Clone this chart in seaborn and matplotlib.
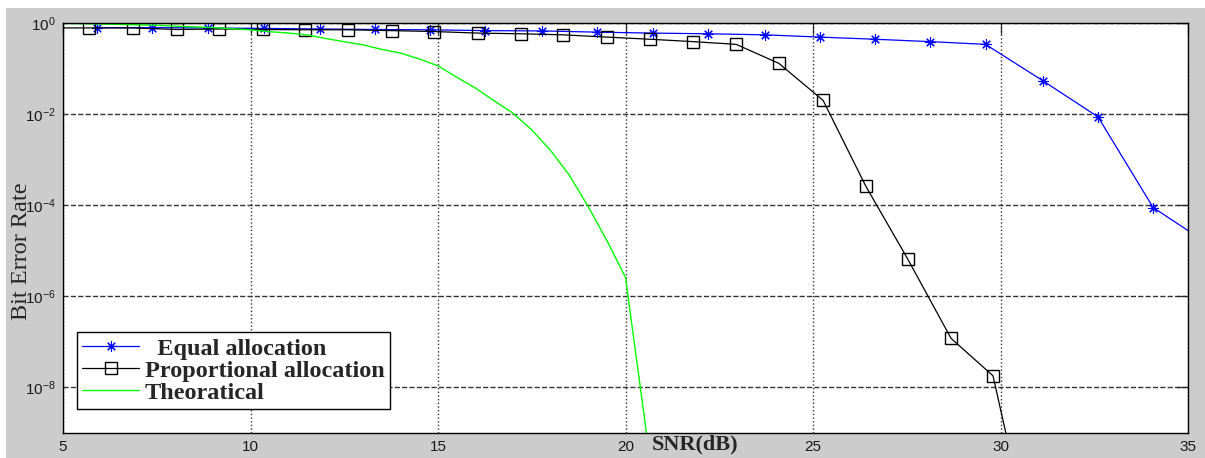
import numpy as np
import pandas as pd
import seaborn as sns
import matplotlib
matplotlib.use("Agg")
import matplotlib.pyplot as plt
from matplotlib.patches import Rectangle
from matplotlib.ticker import NullLocator

# =====================================================
# DATA
# =====================================================

equal_snr = [5.9, 7.37, 8.87, 10.36, 11.85, 13.32, 14.79, 16.25, 17.77, 19.24,
             20.73, 22.2, 23.72, 25.19, 26.65, 28.12, 29.6, 31.13, 32.6, 34.07, 35.55]
equal_ber = [0.79, 0.79, 0.78, 0.76, 0.74, 0.72, 0.71, 0.68, 0.67, 0.63,
             0.60, 0.58, 0.55, 0.49, 0.44, 0.39, 0.34, 0.054, 0.0087, 8.9e-5, 1.4e-5]

prop_snr = [4.54, 5.69, 6.87, 8.04, 9.16, 10.33, 11.45, 12.6, 13.77, 14.89, 16.07,
            17.21, 18.33, 19.51, 20.65, 21.8, 22.95, 24.09, 25.27, 26.41,
            27.53, 28.68, 29.8, 30.95]
prop_ber = [0.78, 0.78, 0.78, 0.72, 0.74, 0.72, 0.71, 0.71, 0.68, 0.65, 0.60,
            0.58, 0.55, 0.49, 0.44, 0.39, 0.34, 0.13, 0.020, 2.6e-4,
            6.5e-6, 1.2e-7, 1.8e-8, 1.1e-12]

theory_snr = [5, 5.5, 6, 6.5, 7, 7.5, 8, 8.5, 9, 9.5, 10, 10.5, 11, 11.5, 12,
              12.5, 13, 13.5, 14, 14.5, 15, 15.5, 16, 16.5, 17, 17.5, 18,
              18.5, 19, 19.5, 20, 21]
theory_ber = [0.98, 0.966, 0.955, 0.933, 0.912, 0.891, 0.851, 0.822, 0.794,
              0.750, 0.708, 0.646, 0.603, 0.550, 0.457, 0.389, 0.331, 0.263,
              0.219, 0.162, 0.115, 0.0646, 0.0372, 0.0195, 0.0105, 4.5e-3,
              1.6e-3, 4.6e-4, 9.5e-5, 1.7e-5, 2.6e-6, 2.0e-12]

x_ticks = [5, 10, 15, 20, 25, 30, 35]
y_ticks = [1e-8, 1e-6, 1e-4, 1e-2, 1e0]

# =====================================================
# FIGURE
# =====================================================

sns.set_style("white")
plt.rcParams["font.family"] = ["Liberation Sans", "DejaVu Sans"]
serif = ["Liberation Serif", "DejaVu Serif"]

fig = plt.figure(figsize=(12.05, 4.58), dpi=100, facecolor="#cccccc")
fig.patches.append(Rectangle((0, 1 - 8 / 458), 1, 8 / 458, transform=fig.transFigure,
                             facecolor="white", edgecolor="none", zorder=0))
fig.patches.append(Rectangle((0, 0), 6 / 1205, 1, transform=fig.transFigure,
                             facecolor="white", edgecolor="none", zorder=0))

ax = fig.add_axes([63 / 1205, 1 - 433 / 458, 1125 / 1205, 410 / 458])
ax.set_facecolor("white")

sns.lineplot(x=equal_snr, y=equal_ber, ax=ax, color="#0000ff", linewidth=0.9,
             marker=(8, 2, 0), markersize=7.5, markeredgecolor="#0000ff",
             markeredgewidth=0.8, label="  Equal allocation", sort=False)

sns.lineplot(x=prop_snr, y=prop_ber, ax=ax, color="black", linewidth=0.9,
             marker="s", markersize=8.5, markerfacecolor="none",
             markeredgecolor="black", markeredgewidth=1.0,
             label="Proportional allocation", sort=False)

sns.lineplot(x=theory_snr, y=theory_ber, ax=ax, color="#00ff00", linewidth=1.0,
             label="Theoratical", sort=False)

# =====================================================
# AXES
# =====================================================

ax.set_yscale("log")
ax.set_xlim(5, 35)
ax.set_ylim(1e-9, 1)
ax.set_xticks(x_ticks)
ax.set_yticks(y_ticks)
ax.yaxis.set_minor_locator(NullLocator())

ax.xaxis.grid(True, linestyle=":", color="0.2", linewidth=1.0)
ax.yaxis.grid(True, linestyle="--", color="0.2", linewidth=1.0)

ax.tick_params(axis="both", which="major", direction="in", length=8,
               width=0.9, top=True, right=True, labelsize=11,
               labelcolor="#1a1a1a", pad=5)
for side in ax.spines.values():
    side.set_color("black")
    side.set_linewidth(1.0)

ax.set_xlabel("SNR(dB)", family=serif, fontweight="bold", fontsize=16,
              va="center")
ax.xaxis.set_label_coords(0.562, -0.029)
ax.set_ylabel("Bit Error Rate", family=serif, fontsize=17.5, va="center")
ax.yaxis.set_label_coords(-0.037, 0.444)

leg = ax.legend(loc="lower left", bbox_to_anchor=(0.0124, 0.058),
                borderaxespad=0, fancybox=False, framealpha=1,
                edgecolor="black", handlelength=2.35, borderpad=0.22,
                labelspacing=0.0, handletextpad=0.22,
                prop={"family": serif, "weight": "bold", "size": 17.5})
leg.get_frame().set_linewidth(1.0)

plt.savefig("out.png", dpi=100, facecolor=fig.get_facecolor())
plt.close()
